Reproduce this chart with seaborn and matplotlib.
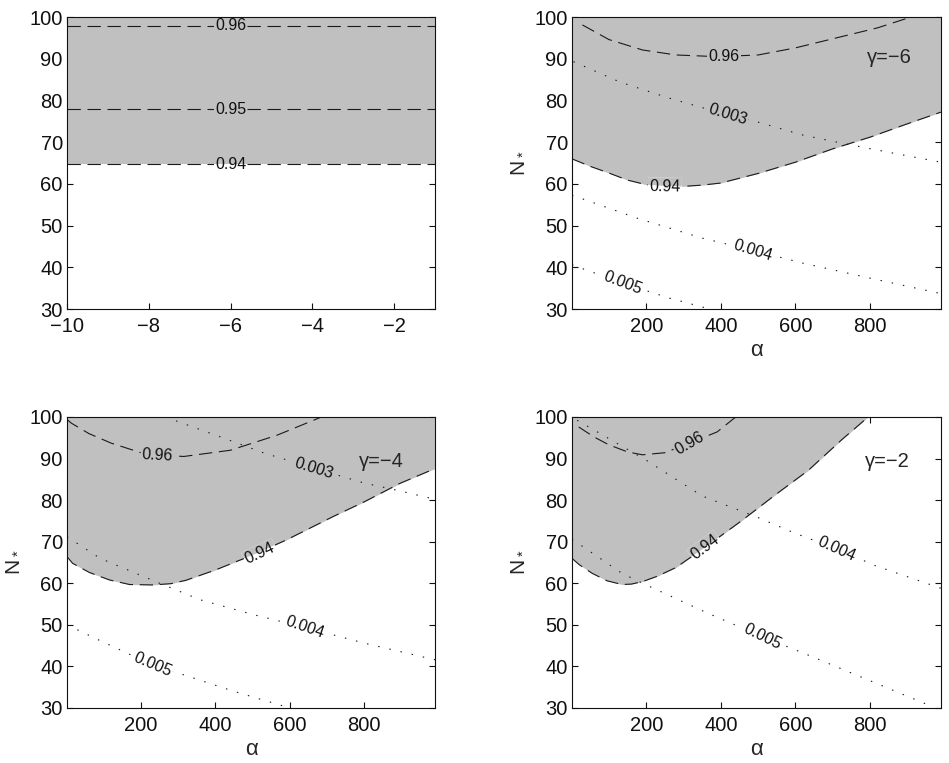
import matplotlib
matplotlib.use('Agg')
import matplotlib.pyplot as plt
import seaborn as sns

# panel 1: gamma scan, contour levels are flat in N*
gam_lim = [-10, -1]
flat_levels = ['0.96', '0.95', '0.94']
flat_n = [97.9, 77.9, 64.7]

# gamma = -6
a94_6 = [1, 50, 100, 150, 200, 250, 300, 350, 400, 500, 600, 700, 800, 900, 990]
n94_6 = [66.0, 64.2, 62.6, 60.9, 59.8, 59.5, 59.4, 59.7, 60.2, 62.5, 65.2, 68.4, 71.2, 74.4, 77.2]
a96_6 = [29, 100, 190, 280, 390, 500, 600, 710, 820, 910]
n96_6 = [98.1, 94.6, 92.1, 90.9, 90.5, 90.9, 92.6, 95.0, 97.4, 100.0]
a003_6 = [5, 130, 260, 400, 500, 620, 750, 890, 990]
n003_6 = [89.3, 84.4, 80.6, 77.0, 74.8, 71.7, 69.3, 66.9, 65.2]
a004_6 = [1, 175, 350, 485, 620, 800, 990]
n004_6 = [57.3, 51.8, 47.0, 44.1, 41.0, 37.4, 33.7]
a005_6 = [1, 137, 263, 370]
n005_6 = [40.6, 36.2, 32.6, 30.0]

# gamma = -4
a94_4 = [1, 16, 61, 115, 169, 230, 280, 320, 400, 500, 590, 715, 800, 895, 990]
n94_4 = [66.4, 64.8, 62.6, 60.8, 59.7, 59.6, 59.9, 60.7, 63.2, 66.8, 70.4, 76.0, 79.6, 84.0, 87.6]
a96_4 = [1, 13, 60, 120, 200, 250, 315, 440, 565, 685]
n96_4 = [99.4, 98.5, 96.0, 93.7, 91.4, 90.8, 90.5, 92.0, 95.6, 100.0]
a003_4 = [265, 423, 531, 665, 800, 887, 990]
n003_4 = [100.0, 94.9, 91.3, 87.7, 84.1, 82.4, 80.2]
a004_4 = [1, 90, 250, 360, 500, 640, 800, 990]
n004_4 = [71.2, 66.0, 60.0, 56.0, 52.5, 49.4, 45.6, 41.6]
a005_4 = [1, 90, 230, 300, 450, 600]
n005_4 = [50.0, 46.2, 40.4, 38.4, 34.0, 30.0]

# gamma = -2
a94_2 = [1, 20, 55, 95, 135, 160, 190, 230, 280, 360, 455, 545, 635, 725, 795]
n94_2 = [66.0, 64.5, 62.4, 60.6, 59.7, 59.8, 60.4, 61.7, 63.8, 68.8, 75.0, 81.2, 87.2, 94.6, 100.0]
a96_2 = [19, 60, 100, 150, 190, 250, 315, 390, 440]
n96_2 = [97.6, 95.2, 93.3, 91.6, 90.9, 91.4, 93.7, 96.4, 100.0]
a004_2 = [15, 200, 350, 500, 600, 710, 815, 990]
n004_2 = [99.2, 89.6, 81.0, 75.8, 72.0, 68.3, 64.2, 58.8]
a005_2 = [1, 135, 200, 365, 510, 635, 815, 965]
n005_2 = [70.6, 62.4, 59.6, 52.8, 47.2, 42.7, 36.0, 30.4]

GRAY = '#c0c0c0'
DASH = (0, (12, 6))
DOT = (0, (1.3, 9))

sns.set_style('ticks')
plt.rcParams['font.family'] = ['Liberation Sans', 'DejaVu Sans']
plt.rcParams['mathtext.fontset'] = 'custom'
plt.rcParams['mathtext.rm'] = 'Liberation Sans'
plt.rcParams['axes.linewidth'] = 0.8

fig = plt.figure(figsize=(9.49, 7.63), dpi=100)
ax1 = fig.add_axes([0.0706, 0.595, 0.3878, 0.3827])
ax2 = fig.add_axes([0.6027, 0.595, 0.3888, 0.3827])
ax3 = fig.add_axes([0.0706, 0.0721, 0.3878, 0.3814])
ax4 = fig.add_axes([0.6027, 0.0721, 0.3888, 0.3814])


def draw(ax, a, n, ls, lw=0.8):
    sns.lineplot(x=a, y=n, ax=ax, color='#1a1a1a', lw=lw, linestyle=ls,
                 sort=False, estimator=None, zorder=3)


def edge(ax, a, n):
    # shaded region above the 0.94 contour, plus the contour itself
    poly = ax.fill_between(a, n, 100, color=GRAY, lw=0, zorder=1)
    draw(ax, a, n, DASH)
    return poly


def clabel(ax, txt, x, y, rot, bg, clip=None):
    kw = dict(rotation=rot, rotation_mode='anchor', ha='center', va='center', fontsize=11.5)
    box = dict(boxstyle='square,pad=0.08', ec='none')
    if clip is not None:
        # label on the boundary: white gap, grey restored inside the shaded polygon
        ax.text(x, y, txt, color='none', zorder=4, bbox=dict(box, fc='white'), **kw)
        g = ax.text(x, y, txt, color='none', zorder=4.2, bbox=dict(box, fc=GRAY), **kw)
        g.set_clip_on(True)
        g.set_clip_path(clip.get_paths()[0], ax.transData)
        ax.text(x, y, txt, color='#111111', zorder=5, **kw)
    else:
        ax.text(x, y, txt, color='#111111', zorder=5, bbox=dict(box, fc=bg), **kw)


def style(ax, xlim, xticks, xlabel=True, ylabel=True):
    ax.set_xlim(*xlim)
    ax.set_ylim(30, 100)
    ax.set_xticks(xticks)
    ax.set_yticks(range(30, 101, 10))
    ax.tick_params(direction='in', top=True, right=True, length=4, width=0.8,
                   labelsize=14.5, colors='#111111')
    ax.tick_params(axis='x', pad=6)
    ax.tick_params(axis='y', pad=3)
    for s in ax.spines.values():
        s.set_visible(True)
        s.set_color('#111111')
        s.set_zorder(6)
    if xlabel:
        ax.set_xlabel('α', fontsize=16)
        ax.xaxis.set_label_coords(0.5, -0.105)
    if ylabel:
        ax.set_ylabel(r'$\mathregular{N_*}$', fontsize=15)
        ax.yaxis.set_label_coords(-0.125, 0.5)


# top left
p1 = edge(ax1, gam_lim, [flat_n[2]] * 2)
for lev, n in zip(flat_levels[:2], flat_n[:2]):
    draw(ax1, gam_lim, [n, n], DASH)
    clabel(ax1, lev, -6.0, n, 0, GRAY)
clabel(ax1, flat_levels[2], -6.0, flat_n[2], 0, None, clip=p1)
style(ax1, gam_lim, [-10, -8, -6, -4, -2], xlabel=False, ylabel=False)

# top right, gamma=-6
p2 = edge(ax2, a94_6, n94_6)
draw(ax2, a96_6, n96_6, DASH)
draw(ax2, a003_6, n003_6, DOT)
draw(ax2, a004_6, n004_6, DOT)
draw(ax2, a005_6, n005_6, DOT)
clabel(ax2, '0.96', 409, 90.5, 0, GRAY)
clabel(ax2, '0.94', 250, 59.4, -1, None, clip=p2)
clabel(ax2, '0.003', 418, 76.6, -17, GRAY)
clabel(ax2, '0.004', 485, 44.1, -17, 'white')
clabel(ax2, '0.005', 137, 36.2, -21, 'white')
ax2.text(852, 90.4, 'γ=−6', fontsize=14.5, ha='center', va='center', zorder=5)
style(ax2, (1, 990), [200, 400, 600, 800])

# bottom left, gamma=-4
p3 = edge(ax3, a94_4, n94_4)
draw(ax3, a96_4, n96_4, DASH)
draw(ax3, a003_4, n003_4, DOT)
draw(ax3, a004_4, n004_4, DOT)
draw(ax3, a005_4, n005_4, DOT)
clabel(ax3, '0.96', 244, 90.8, -3, GRAY)
clabel(ax3, '0.003', 665, 87.7, -17, GRAY)
clabel(ax3, '0.94', 520, 67.2, 25, None, clip=p3)
clabel(ax3, '0.004', 640, 49.4, -19, 'white')
clabel(ax3, '0.005', 231, 40.4, -23, 'white')
ax3.text(847, 89.2, 'γ=−4', fontsize=14.5, ha='center', va='center', zorder=5)
style(ax3, (1, 990), [200, 400, 600, 800])

# bottom right, gamma=-2
p4 = edge(ax4, a94_2, n94_2)
draw(ax4, a96_2, n96_2, DASH)
draw(ax4, a004_2, n004_2, DOT)
draw(ax4, a005_2, n005_2, DOT)
clabel(ax4, '0.96', 316, 93.7, 30, GRAY)
clabel(ax4, '0.94', 358, 68.7, 37, None, clip=p4)
clabel(ax4, '0.004', 710, 68.3, -24, 'white')
clabel(ax4, '0.005', 510, 47.2, -26, 'white')
ax4.text(847, 89.2, 'γ=−2', fontsize=14.5, ha='center', va='center', zorder=5)
style(ax4, (1, 990), [200, 400, 600, 800])

fig.savefig('out.png', dpi=100, facecolor='white')
